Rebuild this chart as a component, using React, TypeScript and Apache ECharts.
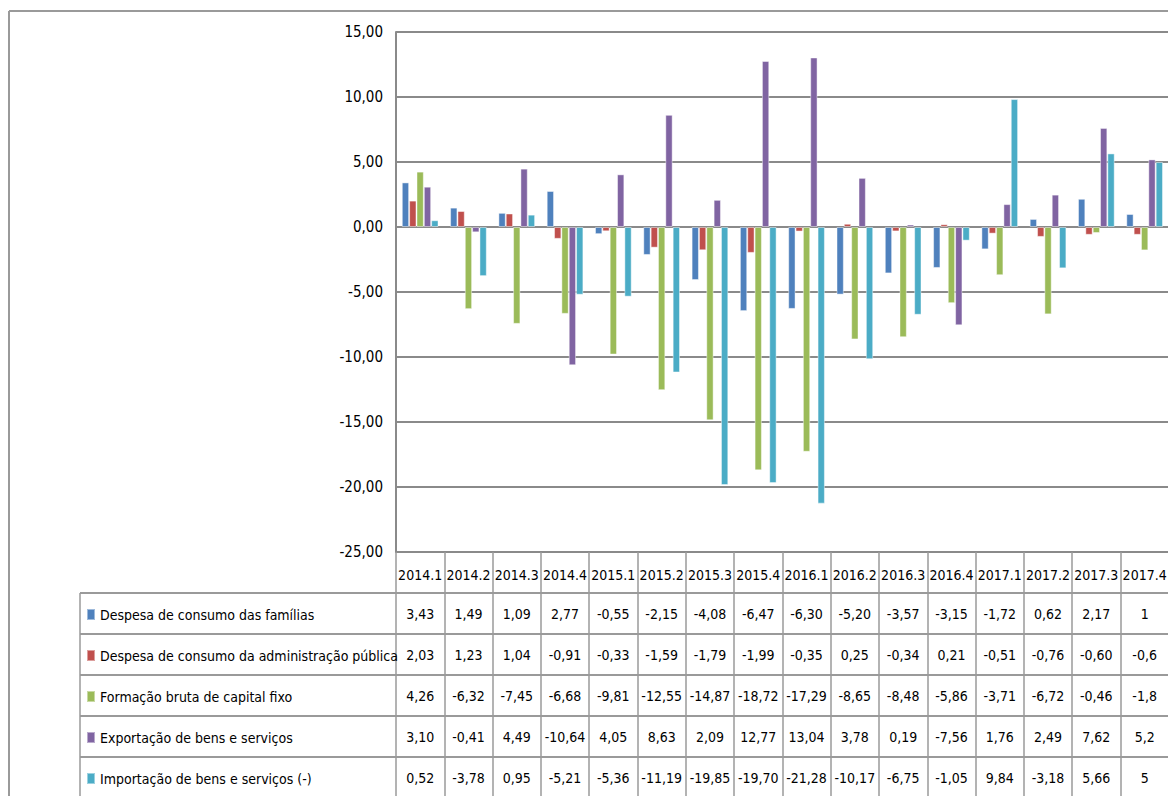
import React, { useEffect, useRef } from "react";
import * as echarts from "echarts";

const categories = [
  "2014.1", "2014.2", "2014.3", "2014.4",
  "2015.1", "2015.2", "2015.3", "2015.4",
  "2016.1", "2016.2", "2016.3", "2016.4",
  "2017.1", "2017.2", "2017.3", "2017.4",
];

const seriesNames = [
  "Despesa de consumo das famílias",
  "Despesa de consumo da administração pública",
  "Formação bruta de capital fixo",
  "Exportação de bens e serviços",
  "Importação de bens e serviços (-)",
];

const familias = [3.43, 1.49, 1.09, 2.77, -0.55, -2.15, -4.08, -6.47, -6.3, -5.2, -3.57, -3.15, -1.72, 0.62, 2.17, 1];
const administracao = [2.03, 1.23, 1.04, -0.91, -0.33, -1.59, -1.79, -1.99, -0.35, 0.25, -0.34, 0.21, -0.51, -0.76, -0.6, -0.6];
const formacao = [4.26, -6.32, -7.45, -6.68, -9.81, -12.55, -14.87, -18.72, -17.29, -8.65, -8.48, -5.86, -3.71, -6.72, -0.46, -1.8];
const exportacao = [3.1, -0.41, 4.49, -10.64, 4.05, 8.63, 2.09, 12.77, 13.04, 3.78, 0.19, -7.56, 1.76, 2.49, 7.62, 5.2];
const importacao = [0.52, -3.78, 0.95, -5.21, -5.36, -11.19, -19.85, -19.7, -21.28, -10.17, -6.75, -1.05, 9.84, -3.18, 5.66, 5];

// decimals shown in the data table per column (null = shown as entered)
const columnDecimals = [2, 2, 2, 2, 2, 2, 2, 2, 2, 2, 2, 2, 2, 2, 2, null];

const yTicks = { min: -25, max: 15, interval: 5 };

const colors = ["#4F81BD", "#C0504D", "#9BBB59", "#8064A2", "#4BACC6"];

const FONT = "'DejaVu Sans Condensed', 'Liberation Sans', sans-serif";

const GRID_LEFT = 396;
const GRID_TOP = 32;
const COL_W = 48.3;
const GRID_H = 520;
const HEADER_H = 41;
const ROW_H = 41;
const TABLE_LEFT = 80;
const LINE = "#9a9a9a";
const GRIDLINE = "#8a8a8a";
const TABLE_FS = 14;

function fmtCell(v: number, i: number) {
  const d = columnDecimals[i];
  const s = d === null ? String(v) : v.toFixed(d as number);
  return s.replace(".", ",");
}

export default function App() {
  const ref = useRef<HTMLDivElement>(null);

  useEffect(() => {
    if (!ref.current) return;
    const chart = echarts.init(ref.current, undefined, { renderer: "svg" });
    const allSeries = [familias, administracao, formacao, exportacao, importacao];
    const gridBottomY = GRID_TOP + GRID_H;

    const rowAxes = allSeries.map((vals, r) => ({
      type: "category",
      gridIndex: 0,
      position: "bottom",
      offset: HEADER_H + r * ROW_H,
      data: categories,
      axisLine: { show: true, onZero: false, lineStyle: { color: LINE, width: 2 } },
      axisTick: { show: true, interval: 0, length: ROW_H, lineStyle: { color: LINE, width: 1.5 } },
      axisLabel: {
        show: true,
        interval: 0,
        margin: 14,
        color: "#000",
        fontSize: TABLE_FS,
        fontFamily: FONT,
        formatter: (_v: string, i: number) => fmtCell(vals[i], i),
      },
      splitLine: { show: false },
    }));

    const graphics: any[] = [
      { type: "line", shape: { x1: 9, y1: 11, x2: 1200, y2: 11 }, style: { stroke: LINE, lineWidth: 2 } },
      { type: "line", shape: { x1: 9, y1: 11, x2: 9, y2: 830 }, style: { stroke: LINE, lineWidth: 2 } },
      {
        type: "line",
        shape: { x1: TABLE_LEFT, y1: gridBottomY + HEADER_H, x2: TABLE_LEFT, y2: 830 },
        style: { stroke: LINE, lineWidth: 1.5 },
      },
    ];
    for (let r = 0; r < allSeries.length; r++) {
      const y = gridBottomY + HEADER_H + r * ROW_H;
      graphics.push({
        type: "line",
        shape: { x1: TABLE_LEFT, y1: y, x2: GRID_LEFT, y2: y },
        style: { stroke: LINE, lineWidth: 2 },
      });
    }

    chart.setOption({
      animation: false,
      textStyle: { fontFamily: FONT },
      grid: { left: GRID_LEFT, top: GRID_TOP, width: COL_W * categories.length, height: GRID_H, containLabel: false },
      legend: {
        orient: "vertical",
        left: 86,
        top: gridBottomY + HEADER_H + ROW_H / 2 - 9,
        padding: 0,
        itemGap: ROW_H - 20,
        itemWidth: 8,
        itemHeight: 11,
        icon: "rect",
        selectedMode: false,
        textStyle: { color: "#000", fontSize: TABLE_FS, fontFamily: FONT, lineHeight: 20 },
        data: seriesNames,
      },
      xAxis: [
        {
          type: "category",
          gridIndex: 0,
          position: "bottom",
          data: categories,
          axisLine: { show: true, onZero: true, lineStyle: { color: GRIDLINE, width: 2 } },
          axisTick: { show: false },
          axisLabel: { show: false },
          splitLine: { show: false },
        },
        {
          type: "category",
          gridIndex: 0,
          position: "bottom",
          offset: 0,
          data: categories,
          axisLine: { show: true, onZero: false, lineStyle: { color: GRIDLINE, width: 2 } },
          axisTick: { show: true, interval: 0, length: HEADER_H, lineStyle: { color: LINE, width: 1.5 } },
          axisLabel: { show: true, interval: 0, margin: 16, color: "#000", fontSize: TABLE_FS, fontFamily: FONT },
          splitLine: { show: false },
        },
        ...rowAxes,
      ],
      yAxis: {
        type: "value",
        min: yTicks.min,
        max: yTicks.max,
        interval: yTicks.interval,
        axisLine: { show: true, lineStyle: { color: GRIDLINE, width: 2 } },
        axisTick: { show: false },
        axisLabel: {
          color: "#000",
          fontSize: 15,
          fontFamily: FONT,
          margin: 13,
          formatter: (v: number) => v.toFixed(2).replace(".", ","),
        },
        splitLine: { show: true, lineStyle: { color: GRIDLINE, width: 2 } },
      },
      series: allSeries.map((vals, i) => ({
        name: seriesNames[i],
        type: "bar",
        xAxisIndex: 0,
        data: vals,
        barGap: "0%",
        barCategoryGap: "24%",
        itemStyle: { color: colors[i], borderColor: "rgba(255,255,255,0.45)", borderWidth: 1 },
      })),
      color: colors,
      graphic: graphics,
    });
    return () => chart.dispose();
  }, []);

  return (
    <div style={{ position: "fixed", left: 0, top: 0, width: 1168, height: 796, overflow: "hidden", background: "#fff" }}>
      <div ref={ref} style={{ width: 1190, height: 830 }} />
    </div>
  );
}
